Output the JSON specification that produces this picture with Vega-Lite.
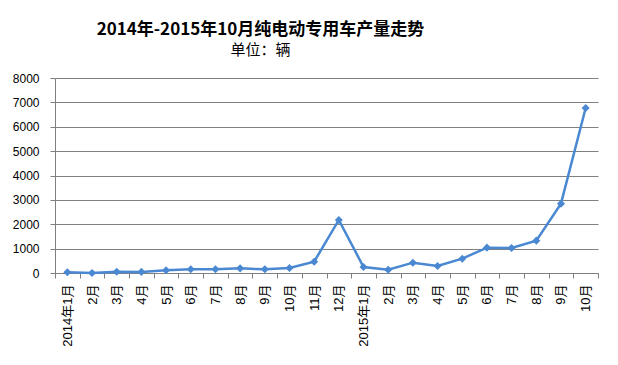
{
  "$schema": "https://vega.github.io/schema/vega-lite/v6.json",
  "width": 543,
  "height": 195,
  "autosize": {"type": "none"},
  "padding": {"left": 55, "top": 78, "right": 20, "bottom": 92},
  "background": "white",
  "title": {
    "text": "2014年-2015年10月纯电动专用车产量走势",
    "subtitle": "单位：辆",
    "anchor": "middle",
    "frame": "group",
    "dx": -66,
    "offset": 13,
    "font": "Noto Sans CJK SC",
    "fontSize": 17,
    "fontWeight": "bold",
    "color": "#000000",
    "subtitleFont": "Noto Sans CJK SC",
    "subtitleFontSize": 15,
    "subtitleColor": "#000000",
    "subtitlePadding": 4
  },
  "data": {
    "values": [
      {"month": "2014-01", "value": 30},
      {"month": "2014-02", "value": 0},
      {"month": "2014-03", "value": 55},
      {"month": "2014-04", "value": 45},
      {"month": "2014-05", "value": 110},
      {"month": "2014-06", "value": 150},
      {"month": "2014-07", "value": 150},
      {"month": "2014-08", "value": 190},
      {"month": "2014-09", "value": 150},
      {"month": "2014-10", "value": 205},
      {"month": "2014-11", "value": 465},
      {"month": "2014-12", "value": 2175},
      {"month": "2015-01", "value": 246},
      {"month": "2015-02", "value": 137},
      {"month": "2015-03", "value": 424},
      {"month": "2015-04", "value": 287},
      {"month": "2015-05", "value": 588},
      {"month": "2015-06", "value": 1040},
      {"month": "2015-07", "value": 1026},
      {"month": "2015-08", "value": 1327},
      {"month": "2015-09", "value": 2845},
      {"month": "2015-10", "value": 6770}
    ]
  },
  "layer": [
    {"mark": {"type": "line", "color": "#4A88D2", "strokeWidth": 2.5}},
    {"mark": {"type": "point", "shape": "diamond", "size": 65, "filled": true, "opacity": 1, "color": "#4A88D2"}}
  ],
  "encoding": {
    "x": {
      "field": "month",
      "type": "ordinal",
      "scale": {"type": "band", "paddingInner": 0, "paddingOuter": 0},
      "axis": {
        "title": null,
        "labelAngle": -90,
        "labelAlign": "right",
        "labelBaseline": "middle",
        "labelExpr": "isString(datum.value) ? (substring(datum.value,5,7)=='01' ? substring(datum.value,0,4)+'年1月' : toNumber(substring(datum.value,5,7))+'月') : ''",
        "labelFont": "Liberation Sans, Noto Sans CJK SC",
        "labelFontSize": 13,
        "labelColor": "#000000",
        "labelPadding": 6,
        "tickBand": "extent",
        "tickSize": 5,
        "tickColor": "#808080",
        "domainColor": "#808080",
        "grid": false
      }
    },
    "y": {
      "field": "value",
      "type": "quantitative",
      "scale": {"domain": [0, 8000], "nice": false},
      "axis": {
        "title": null,
        "values": [0, 1000, 2000, 3000, 4000, 5000, 6000, 7000, 8000],
        "format": "d",
        "labelFont": "Liberation Sans",
        "labelFontSize": 12,
        "labelColor": "#000000",
        "labelPadding": 11,
        "tickSize": 5,
        "tickColor": "#808080",
        "domain": true,
        "domainColor": "#808080",
        "grid": true,
        "gridColor": "#808080",
        "gridWidth": 1
      }
    }
  },
  "config": {"view": {"stroke": null}}
}
